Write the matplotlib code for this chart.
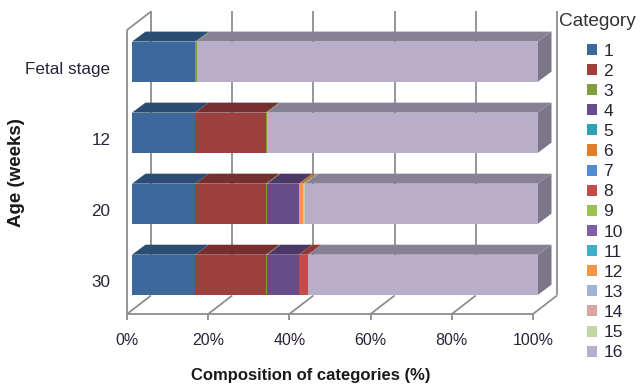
import matplotlib
matplotlib.use('Agg')
import matplotlib.pyplot as plt
from matplotlib.patches import Polygon, Patch
from matplotlib.colors import to_rgb

plt.rcParams['font.family'] = ['Liberation Sans', 'DejaVu Sans']

ages = ['Fetal stage', '12', '20', '30']
categories = [str(i) for i in range(1, 17)]
colors = ['#3c689c', '#9e403e', '#7f9f3f', '#674c8a', '#31a0b5', '#e07f28', '#4f8bcf', '#c44c48',
          '#9bc34f', '#7f5fa8', '#3fafc9', '#f79646', '#a0b4d8', '#d9a5a3', '#c3d5a5', '#b8aec9']

fetal = [15.6, 0, 0.3, 0, 0, 0, 0, 0, 0, 0, 0, 0, 0, 0, 0, 84.1]
week12 = [15.6, 17.3, 0.3, 0, 0, 0, 0, 0, 0, 0, 0, 0, 0, 0, 0, 66.8]
week20 = [15.6, 17.4, 0.3, 7.8, 0, 0, 0, 0, 0, 0, 0, 1.0, 0, 0, 0.6, 57.3]
week30 = [15.6, 17.4, 0.3, 7.8, 0, 0, 0, 2.2, 0, 0, 0, 0, 0, 0, 0, 56.7]
rows = [fetal, week12, week20, week30]

W, H = 640, 386
GREY = '#8e8e8e'
TXT = '#2b2238'

fig = plt.figure(figsize=(W / 100, H / 100), dpi=100)
# axes box is the front plane of the fake 3D chart
ax = fig.add_axes([127 / W, 1 - 314 / H, 406 / W, 284 / H])
ax.set_xlim(0, 100)
ax.set_ylim(3.553, -0.445)

px_x = 100 / 406   # percent per pixel
px_y = 1 / 71      # row units per pixel
bar_h = 40 * px_y
shift = 5 * px_x
dx, dy = 13.5 * px_x, 10 * px_y
wall_x, wall_y = 24 * px_x, 18.5 * px_y
y_bottom, y_top = ax.get_ylim()

for s in ax.spines.values():
    s.set_visible(False)


def darker(c, f):
    return tuple(v * f for v in to_rgb(c))


def wall(xs, ys, z=1):
    ax.plot(xs, ys, color=GREY, lw=1.3, zorder=z, clip_on=False, solid_capstyle='butt')


# back wall grid and floor lines
for v in range(0, 101, 20):
    wall([v + wall_x] * 2, [y_bottom - wall_y, y_top - wall_y])
    wall([v, v + wall_x], [y_bottom, y_bottom - wall_y])
wall([0, 0], [y_top, y_bottom])
wall([0, 100], [y_bottom, y_bottom])
wall([0, wall_x], [y_top, y_top - wall_y])

for r, vals in enumerate(rows):
    left = shift
    top = r - bar_h / 2
    for i, v in enumerate(vals):
        if v == 0:
            continue
        ax.barh(r, v, left=left, height=bar_h, color=colors[i], lw=0, zorder=3, clip_on=False)
        ax.add_patch(Polygon([(left, top), (left + v, top), (left + v + dx, top - dy), (left + dx, top - dy)],
                             closed=True, fc=darker(colors[i], 0.74), lw=0, zorder=3, clip_on=False))
        left += v
    last = colors[len(vals) - 1]
    ax.add_patch(Polygon([(left, top), (left + dx, top - dy), (left + dx, top + bar_h - dy), (left, top + bar_h)],
                         closed=True, fc=darker(last, 0.68), lw=0, zorder=3, clip_on=False))

ax.set_xticks(range(0, 101, 20))
ax.set_xticklabels([f'{v}%' for v in range(0, 101, 20)], fontsize=11.5, color=TXT)
ax.tick_params(axis='x', length=4, width=1.3, color=GREY, pad=10)
ax.set_yticks(range(4))
ax.set_yticklabels(ages, fontsize=12.3, color=TXT, va='top')
ax.tick_params(axis='y', length=0, pad=12)

ax.set_xlabel('Composition of categories (%)', fontsize=12, fontweight='bold', color='#1a1a1a')
ax.xaxis.set_label_coords((311 - 127) / 406, -(368 - 314) / 284)
ax.set_ylabel('Age (weeks)', fontsize=13.5, fontweight='bold', color='#1a1a1a')
ax.yaxis.set_label_coords((25 - 127) / 406, (314 - 173) / 284)

handles = [Patch(fc=c, ec='none') for c in colors]
fig.text(559 / W, 1 - 21 / H, 'Category', fontsize=13.7, color='#333333', va='center')
leg = fig.legend(handles, categories, loc='upper left',
                 bbox_to_anchor=(587 / W, 1 - 43.5 / H), frameon=False, fontsize=12.5,
                 handlelength=0.6, handleheight=0.6, handletextpad=0.35,
                 labelspacing=0.295, borderpad=0, borderaxespad=0)
for t in leg.get_texts():
    t.set_color(TXT)

fig.savefig('out.png', dpi=100)
